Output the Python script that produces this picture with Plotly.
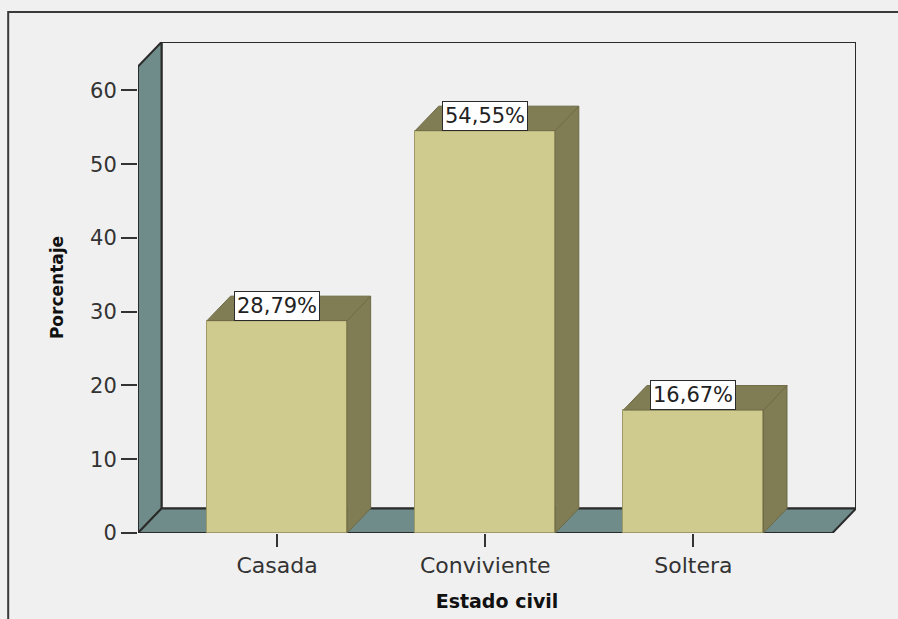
import plotly.graph_objects as go

categories = ["Casada", "Conviviente", "Soltera"]
percentages = [28.79, 54.55, 16.67]
y_ticks = [0, 10, 20, 30, 40, 50, 60]

# geometry of the pseudo-3D frame (data units)
bar_width = 0.673
depth_x = 0.113
depth_y = 3.32
x_left = -0.668
x_right = 2.668
wall_top = 63.25

FRONT = "#cfca8e"
SIDE = "#807c54"
WALL = "#6f8c8a"
EDGE = "#2b2b2b"
BG = "#f0f0f0"

xs = list(range(len(categories)))
labels = [f"{v:.2f}".replace(".", ",") + "%" for v in percentages]

fig = go.Figure()

# bar front faces
fig.add_trace(go.Bar(
    x=xs, y=percentages, width=bar_width,
    marker=dict(color=FRONT, line=dict(color="#9e9a66", width=1)),
    hoverinfo="skip", showlegend=False,
))

# bar side and top faces
for x, v in zip(xs, percentages):
    x0 = x - bar_width / 2
    x1 = x + bar_width / 2
    fig.add_trace(go.Scatter(
        x=[x1, x1, x1 + depth_x, x1 + depth_x, x1],
        y=[0, v, v + depth_y, depth_y, 0],
        mode="lines", fill="toself", fillcolor=SIDE,
        line=dict(color="#6e6a45", width=1),
        hoverinfo="skip", showlegend=False,
    ))
    fig.add_trace(go.Scatter(
        x=[x0, x1, x1 + depth_x, x0 + depth_x, x0],
        y=[v, v, v + depth_y, v + depth_y, v],
        mode="lines", fill="toself", fillcolor=SIDE,
        line=dict(color="#6e6a45", width=1),
        hoverinfo="skip", showlegend=False,
    ))

shapes = []
# back plane
shapes.append(dict(
    type="rect", xref="x", yref="y", layer="below",
    x0=x_left + depth_x, x1=x_right + depth_x,
    y0=depth_y, y1=wall_top + depth_y,
    fillcolor=BG, line=dict(color=EDGE, width=2),
))
# left wall
shapes.append(dict(
    type="path", xref="x", yref="y", layer="below",
    path=(f"M {x_left},0 L {x_left},{wall_top} "
          f"L {x_left + depth_x},{wall_top + depth_y} "
          f"L {x_left + depth_x},{depth_y} Z"),
    fillcolor=WALL, line=dict(color=EDGE, width=2),
))
# floor
shapes.append(dict(
    type="path", xref="x", yref="y", layer="below",
    path=(f"M {x_left},0 L {x_right},0 "
          f"L {x_right + depth_x},{depth_y} "
          f"L {x_left + depth_x},{depth_y} Z"),
    fillcolor=WALL, line=dict(color=EDGE, width=2),
))
# outer frame
shapes.append(dict(
    type="rect", xref="paper", yref="paper",
    x0=-0.1808, x1=1.2, y0=-0.3, y1=1.0611,
    line=dict(color="#3a3a3a", width=2), fillcolor="rgba(0,0,0,0)",
    layer="below",
))

annotations = []
for x, v, t in zip(xs, percentages, labels):
    annotations.append(dict(
        x=x, y=v, xref="x", yref="y", text=t, showarrow=False,
        yanchor="bottom", xanchor="center", yshift=0,
        bgcolor="white", bordercolor=EDGE, borderwidth=1, borderpad=2,
        font=dict(family="DejaVu Sans", size=21, color="#222222"),
    ))

fig.update_layout(
    width=898, height=619,
    margin=dict(l=138, r=42, t=42, b=86),
    paper_bgcolor=BG, plot_bgcolor=BG,
    shapes=shapes, annotations=annotations,
    bargap=0,
    xaxis=dict(
        range=[x_left, x_right + depth_x],
        tickvals=xs, ticktext=categories,
        ticks="outside", ticklen=13, tickwidth=2, tickcolor="#333333",
        showgrid=False, zeroline=False, showline=False, automargin=False,
        tickfont=dict(family="DejaVu Sans", size=22, color="#333333"),
        title=dict(text="<b>Estado civil</b>", standoff=17,
                   font=dict(family="DejaVu Sans", size=19, color="#111111")),
        fixedrange=True,
    ),
    yaxis=dict(
        range=[0, wall_top + depth_y],
        tickvals=y_ticks,
        ticks="outside", ticklen=16, tickwidth=2, tickcolor="#333333",
        showgrid=False, zeroline=False, showline=False, automargin=False,
        tickfont=dict(family="DejaVu Sans", size=21, color="#333333"),
        title=dict(text="<b>Porcentaje</b>", standoff=22,
                   font=dict(family="DejaVu Sans", size=17, color="#111111")),
        fixedrange=True,
    ),
)

fig.write_html(
    "out.html",
    config={"displayModeBar": False},
    post_script="document.body.style.margin='0';document.body.style.background='#f0f0f0';",
)
